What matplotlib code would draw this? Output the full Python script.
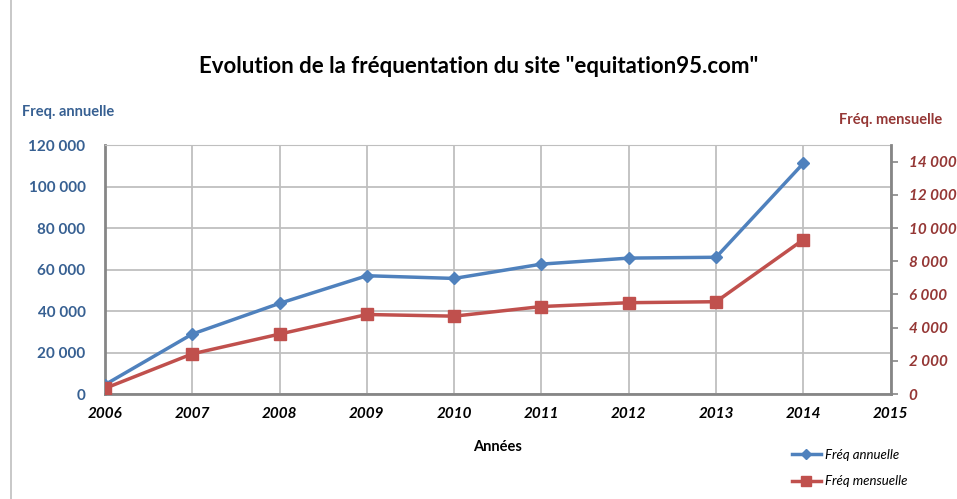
import matplotlib.pyplot as plt
from matplotlib.patches import Rectangle
from matplotlib.ticker import FuncFormatter
from matplotlib.lines import Line2D

plt.rcParams['font.family'] = ['Lato', 'DejaVu Sans']

# Data
years = [2006, 2007, 2008, 2009, 2010, 2011, 2012, 2013, 2014]
freq_annuelle = [4500, 28900, 43700, 57000, 55700, 62600, 65500, 65900, 111200]
freq_mensuelle = [340, 2420, 3610, 4790, 4690, 5270, 5500, 5560, 9300]
x_ticks = list(range(2006, 2016))

blue = '#4F81BD'
red = '#C0504D'
blue_txt = '#376092'
red_txt = '#953735'


def thousands(v, pos):
    return f"{int(v):,}".replace(',', ' ')


fig = plt.figure(figsize=(9.57, 4.99), dpi=100)
fig.add_artist(Rectangle((0.011, -0.01), 1.2, 1.2, transform=fig.transFigure,
                         fill=False, edgecolor='#BFBFBF', linewidth=1.2))

ax = fig.add_axes([0.1097, 0.2104, 0.821, 0.499])
ax2 = ax.twinx()

ax.plot(years, freq_annuelle, color=blue, linewidth=2.5, marker='D',
        markersize=6, label='Fréq annuelle', zorder=3)
ax2.plot(years, freq_mensuelle, color=red, linewidth=2.5, marker='s',
         markersize=9, label='Fréq mensuelle', zorder=3)

ax.set_xlim(2006, 2015)
ax.set_ylim(0, 120000)
ax2.set_ylim(0, 15000)
ax.set_xticks(x_ticks)
ax.set_yticks(range(0, 120001, 20000))
ax2.set_yticks(range(0, 14001, 2000))
ax.yaxis.set_major_formatter(FuncFormatter(thousands))
ax2.yaxis.set_major_formatter(FuncFormatter(thousands))

ax.grid(True, color='#BFBFBF', linewidth=1.3)
ax.set_axisbelow(True)
ax.spines['top'].set_color('#BFBFBF')
ax2.spines['top'].set_visible(False)
for s in ['left', 'bottom']:
    ax.spines[s].set_color('#868686')
    ax.spines[s].set_linewidth(2)
ax2.spines['right'].set_color('#868686')
ax2.spines['right'].set_linewidth(2)
ax.spines['right'].set_visible(False)
ax2.spines['left'].set_visible(False)
ax2.spines['bottom'].set_visible(False)

ax.tick_params(axis='y', length=0, pad=14, labelsize=11, labelcolor=blue_txt)
ax.tick_params(axis='x', length=0, pad=9, labelsize=11)
ax2.tick_params(axis='y', length=5, width=1.2, color='#868686', pad=8,
                labelsize=11, labelcolor=red_txt)
for lab in ax.get_yticklabels():
    lab.set_fontweight('bold')
for lab in ax.get_xticklabels():
    lab.set_fontweight('bold')
    lab.set_fontstyle('italic')
for lab in ax2.get_yticklabels():
    lab.set_fontweight('bold')
    lab.set_fontstyle('italic')

ax.set_xlabel('Années', fontsize=10.5, fontweight='bold', labelpad=14)

fig.text(0.5, 0.867, 'Evolution de la fréquentation du site "equitation95.com"',
         ha='center', va='center', fontsize=16, fontweight='bold')
fig.text(0.023, 0.776, 'Freq. annuelle', ha='left', va='center',
         fontsize=10.5, fontweight='bold', color=blue_txt)
fig.text(0.985, 0.76, 'Fréq. mensuelle', ha='right', va='center',
         fontsize=10.5, fontweight='bold', color=red_txt)

handles = [Line2D([], [], color=blue, linewidth=2.5, marker='D', markersize=5),
           Line2D([], [], color=red, linewidth=2.5, marker='s', markersize=7)]
leg = fig.legend(handles, ['Fréq annuelle', 'Fréq mensuelle'],
                 loc='lower left', bbox_to_anchor=(0.815, 0.0), frameon=False,
                 prop={'style': 'italic', 'size': 9.5}, handlelength=2.2,
                 labelspacing=1.1, handletextpad=0.3)

fig.savefig('out.png', dpi=100)
